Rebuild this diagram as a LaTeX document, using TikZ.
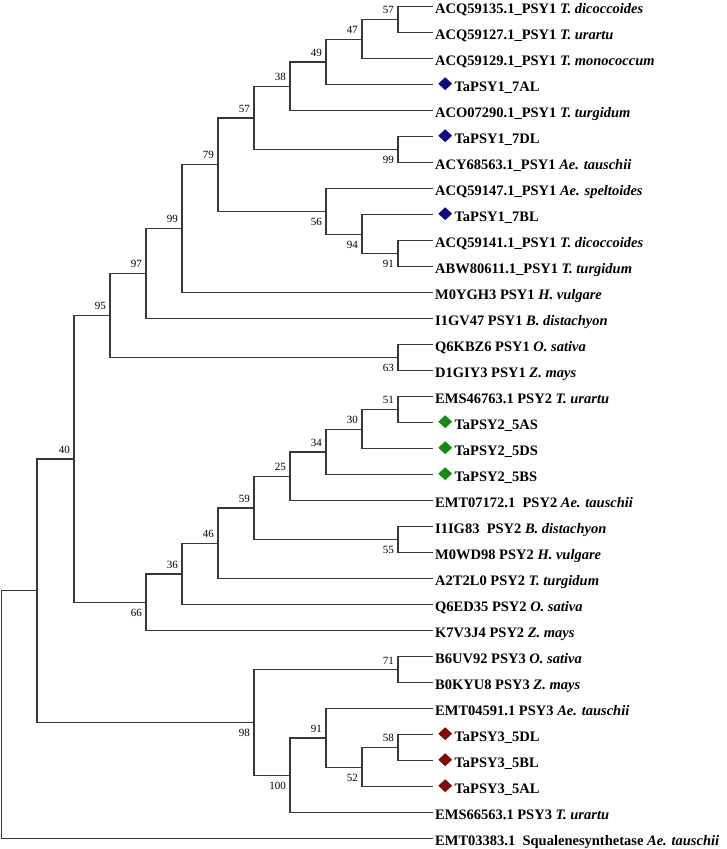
\documentclass[tikz,border=0pt]{standalone}
\usepackage{fontspec}
\setmainfont{Liberation Serif}
\usepackage{xcolor}
\usepackage{tikz}
\usetikzlibrary{positioning,shapes.geometric}
\definecolor{psyone}{HTML}{0C0C7E}
\definecolor{psytwo}{HTML}{158A15}
\definecolor{psythree}{HTML}{7E0A0A}
\definecolor{brc}{HTML}{383838}
\newcommand{\lfont}{\fontsize{14.5}{17}\selectfont\bfseries}
\newcommand{\bsfont}{\fontsize{11}{13}\selectfont}
\newcommand{\taxon}[1]{\textit{#1}}
\tikzset{
  br/.style={line width=1.2pt,brc},
  lf/.style={inner sep=0pt,text height=13pt,text depth=0pt,font=\lfont},
  mk/.style={diamond,inner sep=0pt,minimum width=14pt,minimum height=13pt},
  bsa/.style={anchor=south east,inner sep=0pt,xshift=-4pt,yshift=5.5pt,font=\bsfont},
  bsb/.style={anchor=north east,inner sep=0pt,xshift=-4pt,yshift=-6.5pt,font=\bsfont}
}
\begin{document}
\begin{tikzpicture}[x=1pt,y=-1pt]
\fill[white] (0,0) rectangle (727,849);
\useasboundingbox (0,0) rectangle (727,849);
% leaf tips
\foreach \i in {1,...,33}
  \coordinate (t\i) at (432.5,{6.7+26*(\i-1)});
% internal nodes (x = branching level, y = mid of children)
\coordinate (nA) at (398,19.7);
\coordinate (nB) at (362,39.2);
\coordinate (nC) at (326,61.95);
\coordinate (nD) at (290,86.33);
\coordinate (nE) at (398,149.7);
\coordinate (nF) at (254,118.01);
\coordinate (nG) at (398,253.7);
\coordinate (nH) at (362,234.2);
\coordinate (nI) at (326,211.45);
\coordinate (nJ) at (218,164.73);
\coordinate (nK) at (182,228.72);
\coordinate (nM) at (146,273.71);
\coordinate (nN) at (398,357.7);
\coordinate (nO) at (110,315.7);
\coordinate (nP) at (398,409.7);
\coordinate (nQ) at (362,429.2);
\coordinate (nR) at (326,451.95);
\coordinate (nS) at (290,476.33);
\coordinate (nT) at (398,539.7);
\coordinate (nU) at (254,508.01);
\coordinate (nV) at (218,543.36);
\coordinate (nW) at (182,574.03);
\coordinate (nX) at (146,602.37);
\coordinate (nY) at (74,459.03);
\coordinate (nZa) at (398,669.7);
\coordinate (nZb) at (398,747.7);
\coordinate (nZc) at (362,767.2);
\coordinate (nZd) at (326,737.95);
\coordinate (nZe) at (290,775.33);
\coordinate (nZf) at (254,722.5);
\coordinate (nZg) at (37,590.8);
\coordinate (root) at (1.5,714.75);
% branches
\foreach \p/\c in {nA/t1,nA/t2,nB/nA,nB/t3,nC/nB,nC/t4,nD/nC,nD/t5,
  nE/t6,nE/t7,nF/nD,nF/nE,nG/t10,nG/t11,nH/t9,nH/nG,nI/t8,nI/nH,
  nJ/nF,nJ/nI,nK/nJ,nK/t12,nM/nK,nM/t13,nN/t14,nN/t15,nO/nM,nO/nN,
  nP/t16,nP/t17,nQ/nP,nQ/t18,nR/nQ,nR/t19,nS/nR,nS/t20,nT/t21,nT/t22,
  nU/nS,nU/nT,nV/nU,nV/t23,nW/nV,nW/t24,nX/nW,nX/t25,nY/nO,nY/nX,
  nZa/t26,nZa/t27,nZb/t29,nZb/t30,nZc/nZb,nZc/t31,nZd/t28,nZd/nZc,
  nZe/nZd,nZe/t32,nZf/nZa,nZf/nZe,nZg/nY,nZg/nZf,root/nZg,root/t33}
  \draw[br] (\p) |- (\c);
% bootstrap values
\foreach \n/\v in {nA/57,nB/47,nC/49,nD/38,nF/57,nJ/79,nK/99,nM/97,nO/95,
  nP/51,nQ/30,nR/34,nS/25,nU/59,nV/46,nW/36,nY/40,nZa/71,nZb/58,nZd/91}
  \node[bsa] (b\n) at (\n) {\v};
\foreach \n/\v in {nE/99,nG/91,nH/94,nI/56,nN/63,nT/55,nX/66,
  nZc/52,nZe/100,nZf/98}
  \node[bsb] (b\n) at (\n) {\v};
% sequence labels
\foreach \i/\txt in {
  1/{ACQ59135.1\_PSY1 \taxon{T. dicoccoides}},
  2/{ACQ59127.1\_PSY1 \taxon{T. urartu}},
  3/{ACQ59129.1\_PSY1 \taxon{T. monococcum}},
  5/{ACO07290.1\_PSY1 \taxon{T. turgidum}},
  7/{ACY68563.1\_PSY1 \taxon{Ae. tauschii}},
  8/{ACQ59147.1\_PSY1 \taxon{Ae. speltoides}},
  10/{ACQ59141.1\_PSY1 \taxon{T. dicoccoides}},
  11/{ABW80611.1\_PSY1 \taxon{T. turgidum}},
  12/{M0YGH3 PSY1 \taxon{H. vulgare}},
  13/{I1GV47 PSY1 \taxon{B. distachyon}},
  14/{Q6KBZ6 PSY1 \taxon{O. sativa}},
  15/{D1GIY3 PSY1 \taxon{Z. mays}},
  16/{EMS46763.1 PSY2 \taxon{T. urartu}},
  20/{EMT07172.1\ \ PSY2 \taxon{Ae. tauschii}},
  21/{I1IG83\ \ PSY2 \taxon{B. distachyon}},
  22/{M0WD98 PSY2 \taxon{H. vulgare}},
  23/{A2T2L0 PSY2 \taxon{T. turgidum}},
  24/{Q6ED35 PSY2 \taxon{O. sativa}},
  25/{K7V3J4 PSY2 \taxon{Z. mays}},
  26/{B6UV92 PSY3 \taxon{O. sativa}},
  27/{B0KYU8 PSY3 \taxon{Z. mays}},
  28/{EMT04591.1 PSY3 \taxon{Ae. tauschii}},
  32/{EMS66563.1 PSY3 \taxon{T. urartu}},
  33/{EMT03383.1\ \ Squalenesynthetase \taxon{Ae. tauschii}}}
  \node[lf,right=2.5pt of t\i] (l\i) {\txt};
% wheat genes
\foreach \i/\txt/\c in {4/TaPSY1\_7AL/psyone,6/TaPSY1\_7DL/psyone,
  9/TaPSY1\_7BL/psyone,17/TaPSY2\_5AS/psytwo,18/TaPSY2\_5DS/psytwo,
  19/TaPSY2\_5BS/psytwo,29/TaPSY3\_5DL/psythree,30/TaPSY3\_5BL/psythree,
  31/TaPSY3\_5AL/psythree}{
  \node[mk,fill=\c,right=5.5pt of t\i,yshift=1pt] (d\i) {};
  \node[lf,right=2pt of d\i,yshift=-1pt] (l\i) {\txt};
}
\end{tikzpicture}
\end{document}
